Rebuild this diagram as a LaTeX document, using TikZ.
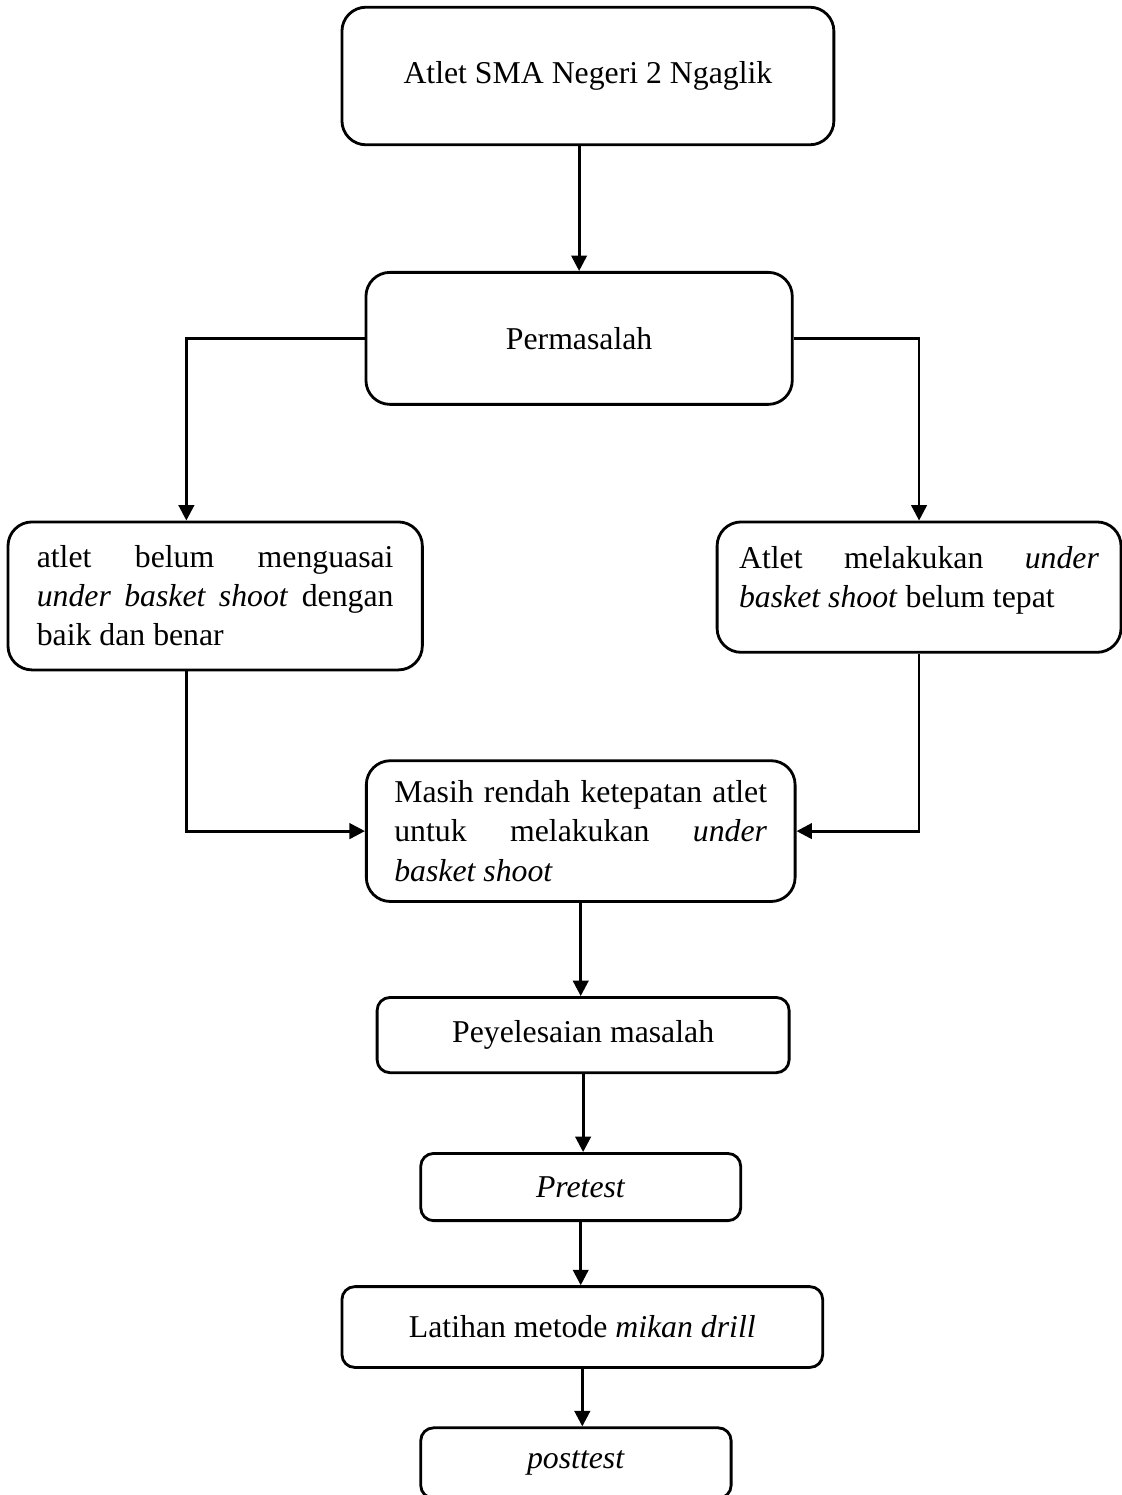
\documentclass[tikz,border=0pt]{standalone}
\usepackage{fontspec}
\setmainfont{Liberation Serif}
\usetikzlibrary{arrows.meta}

\begin{document}
\begin{tikzpicture}[
    font=\fontsize{11.3}{13.9}\selectfont,
    blok/.style={draw, line width=1pt, rounded corners=0.3cm, inner sep=0pt},
    kecil/.style={blok, rounded corners=0.16cm},
    arr/.style={line width=1pt, -{Triangle[length=5.5pt,width=5.5pt]}}]
  \useasboundingbox (0, 0) rectangle (14.025, -18.69);

  \node[blok, minimum width=6.15cm, minimum height=1.72cm] (atlet) at (7.35, -0.95) {Atlet SMA Negeri 2 Ngaglik};
  \node[blok, minimum width=5.33cm, minimum height=1.65cm] (masalah) at (7.24, -4.23) {Permasalah};

  \node[blok, minimum width=5.18cm, minimum height=1.85cm, text width=4.46cm, align=justify] (kiri) at (2.69, -7.45)
    {atlet belum menguasai\linebreak \textit{under basket shoot} dengan\linebreak baik dan benar};
  \node[blok, minimum width=5.05cm, minimum height=1.63cm, text width=4.5cm, align=justify] (kanan) at (11.49, -7.34)
    {Atlet melakukan \textit{under}\linebreak \textit{basket shoot} belum tepat\par\nointerlineskip\rule{0pt}{0.17cm}};

  \node[blok, minimum width=5.36cm, minimum height=1.76cm, text width=4.66cm, align=justify] (rendah) at (7.26, -10.39)
    {Masih rendah ketepatan atlet\linebreak untuk melakukan \textit{under}\linebreak \textit{basket shoot}};

  \node[kecil, minimum width=5.15cm, minimum height=0.94cm] (solusi) at (7.29, -12.94) {Peyelesaian masalah};
  \node[kecil, minimum width=4cm, minimum height=0.84cm] (pre) at (7.26, -14.84) {\textit{Pretest}};
  \node[kecil, minimum width=6.01cm, minimum height=1.01cm] (latihan) at (7.28, -16.59) {Latihan metode \textit{mikan drill}};
  \node[kecil, minimum width=3.88cm, minimum height=0.88cm] (post) at (7.2, -18.29) {\textit{posttest}};

  \coordinate (cabang) at (2.33, -4.23);

  \draw[arr] (masalah.north |- atlet.south) -- (masalah.north);
  \draw[arr] (masalah.west) -- (cabang) -- (cabang |- kiri.north);
  \draw[arr] (masalah.east) -| (kanan.north);
  \draw[arr] (cabang |- kiri.south) |- (rendah.west);
  \draw[arr] (kanan.south) |- (rendah.east);
  \draw[arr] (rendah.south) -- (rendah.south |- solusi.north);
  \draw[arr] (solusi.south) -- (solusi.south |- pre.north);
  \draw[arr] (pre.south) -- (pre.south |- latihan.north);
  \draw[arr] (latihan.south) -- (latihan.south |- post.north);
\end{tikzpicture}
\end{document}
